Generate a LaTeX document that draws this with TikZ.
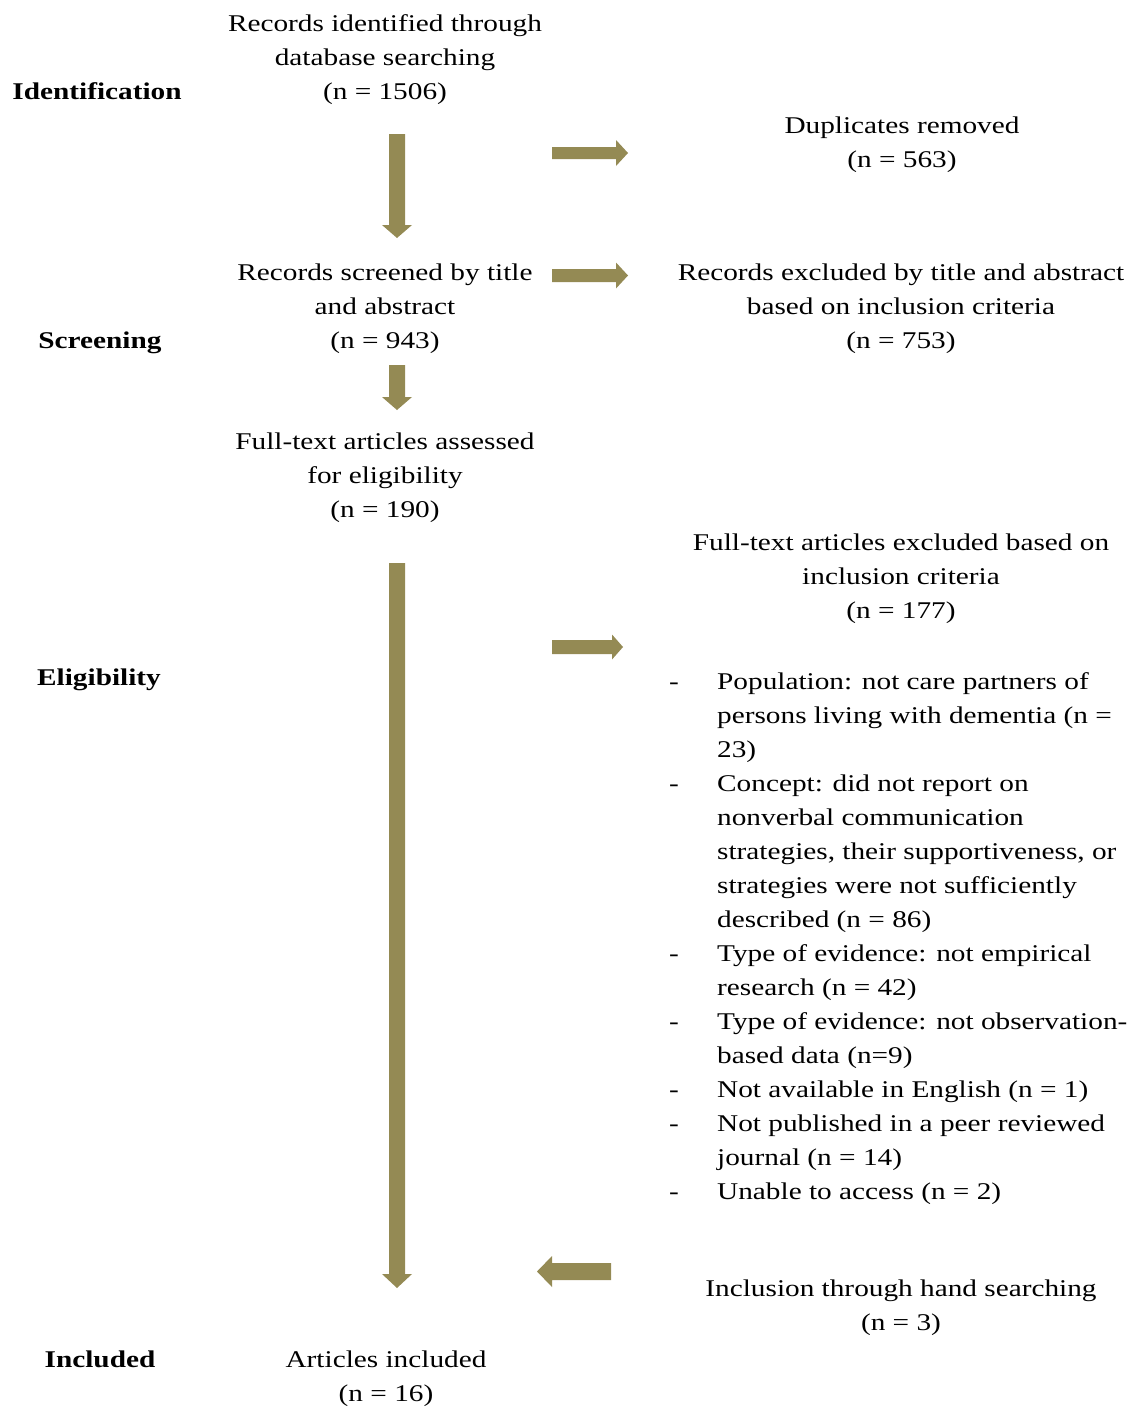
\documentclass[tikz,border=0pt]{standalone}
\usepackage{fontspec}
\setmainfont{Liberation Serif}[FakeStretch=1.22]
\definecolor{arrowfill}{RGB}{148,138,84}

% block arrows: x, y-start, y-end, shaft half width, head half width, head length
\newcommand\blockdown[6]{%
  \fill[arrowfill] ({#1-#4},#2) -- ({#1+#4},#2) -- ({#1+#4},{#3-#6}) -- ({#1+#5},{#3-#6})
    -- (#1,#3) -- ({#1-#5},{#3-#6}) -- ({#1-#4},{#3-#6}) -- cycle;}
% y, x-start, x-end (tip), shaft half width, head half width, head length
\newcommand\blockright[6]{%
  \fill[arrowfill] (#2,{#1-#4}) -- ({#3-#6},{#1-#4}) -- ({#3-#6},{#1-#5}) -- (#3,#1)
    -- ({#3-#6},{#1+#5}) -- ({#3-#6},{#1+#4}) -- (#2,{#1+#4}) -- cycle;}
\newcommand\blockleft[6]{%
  \fill[arrowfill] (#2,{#1-#4}) -- ({#3+#6},{#1-#4}) -- ({#3+#6},{#1-#5}) -- (#3,#1)
    -- ({#3+#6},{#1+#5}) -- ({#3+#6},{#1+#4}) -- (#2,{#1+#4}) -- cycle;}

\begin{document}
\begin{tikzpicture}[x=1pt,y=-1pt,
  txt/.style={align=center, inner sep=0pt, anchor=base, font=\fontsize{24}{34}\selectfont},
  stage/.style={inner sep=0pt, anchor=base, font=\fontsize{24}{34}\selectfont\bfseries},
  listtxt/.style={align=left, inner sep=0pt, anchor=base west, font=\fontsize{24}{34}\selectfont}]
\useasboundingbox (0,0) rectangle (1138,1408);

% stage labels
\node[stage] (lid) at (97,99) {Identification};
\node[stage] (lsc) at (100,348) {Screening};
\node[stage] (lel) at (99,685) {Eligibility};
\node[stage] (lin) at (100,1367) {Included};

% main flow (nodes placed by the baseline of their last line)
\node[txt] (ident) at (385,99) {Records identified through\\database searching\\(n = 1506)};
\node[txt] (screen) at (385,348) {Records screened by title\\and abstract\\(n = 943)};
\node[txt] (full) at (385,517) {Full-text articles assessed\\for eligibility\\(n = 190)};
\node[txt] (incl) at (386,1401) {Articles included\\(n = 16)};

% side boxes
\node[txt] (dup) at (902,167) {Duplicates removed\\(n = 563)};
\node[txt] (excl1) at (901,348) {Records excluded by title and abstract\\based on inclusion criteria\\(n = 753)};
\node[txt] (excl2) at (901,618) {Full-text articles excluded based on\\inclusion criteria\\(n = 177)};
\node[txt] (hand) at (901,1330) {Inclusion through hand searching\\(n = 3)};

\node[listtxt] (reasons) at (669,1199) {%
\makebox[48pt][l]{-}Population: not care partners of\\
\hspace*{48pt}persons living with dementia (n =\\
\hspace*{48pt}23)\\
\makebox[48pt][l]{-}Concept: did not report on\\
\hspace*{48pt}nonverbal communication\\
\hspace*{48pt}strategies, their supportiveness, or\\
\hspace*{48pt}strategies were not sufficiently\\
\hspace*{48pt}described (n = 86)\\
\makebox[48pt][l]{-}Type of evidence: not empirical\\
\hspace*{48pt}research (n = 42)\\
\makebox[48pt][l]{-}Type of evidence: not observation-\\
\hspace*{48pt}based data (n=9)\\
\makebox[48pt][l]{-}Not available in English (n = 1)\\
\makebox[48pt][l]{-}Not published in a peer reviewed\\
\hspace*{48pt}journal (n = 14)\\
\makebox[48pt][l]{-}Unable to access (n = 2)};

% arrows
\blockdown{397}{134}{238}{8}{15}{13}
\blockdown{397}{365}{410}{8}{15}{13}
\blockdown{397}{563}{1288}{8}{15}{14}
\blockright{153}{552}{628}{6}{13}{12}
\blockright{275.5}{552}{628}{6.5}{13}{12}
\blockright{647}{552}{623}{7}{12.5}{11}
\blockleft{1271.5}{611}{537}{8.5}{15.5}{15}
\end{tikzpicture}
\end{document}
